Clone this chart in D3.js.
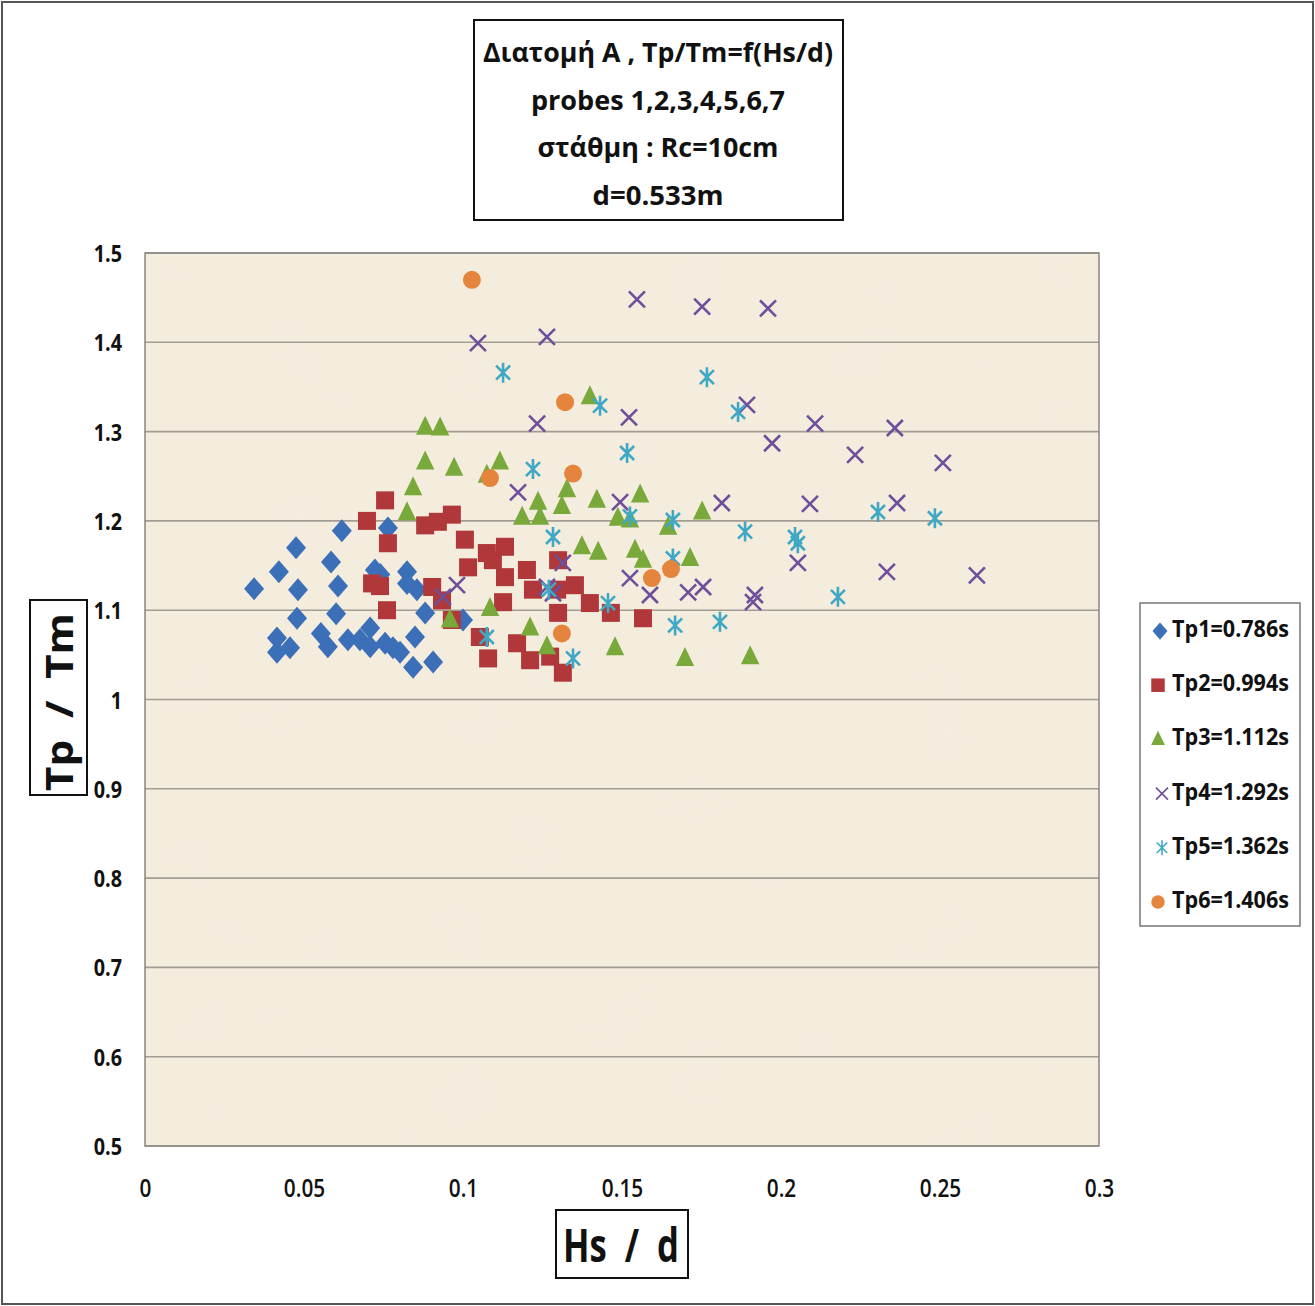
<!DOCTYPE html>
<html><head><meta charset="utf-8">
<script src="https://cdn.jsdelivr.net/npm/d3@7"></script>
<style>
body{margin:0;background:#fff;}
svg{display:block;}
</style></head>
<body>
<svg id="chart" width="1315" height="1306"></svg>
<script>
const titleLines = ["Διατομή Α , Tp/Tm=f(Hs/d)", "probes 1,2,3,4,5,6,7", "στάθμη : Rc=10cm", "d=0.533m"];
const xTicks = [0, 0.05, 0.1, 0.15, 0.2, 0.25, 0.3];
const yTicks = [0.5, 0.6, 0.7, 0.8, 0.9, 1, 1.1, 1.2, 1.3, 1.4, 1.5];
const seriesNames = ["Tp1=0.786s", "Tp2=0.994s", "Tp3=1.112s", "Tp4=1.292s", "Tp5=1.362s", "Tp6=1.406s"];
const xTitle = "Hs  /  d";
const yTitle = "Tp  /  Tm";

const tp1 = [[0.0343,1.124],[0.0421,1.143],[0.0475,1.170],[0.0481,1.123],[0.0478,1.091],[0.0415,1.069],[0.0415,1.053],[0.0456,1.058],
 [0.0619,1.189],[0.0585,1.154],[0.0607,1.127],[0.0601,1.096],[0.0553,1.074],[0.0575,1.059],[0.0638,1.067],[0.0676,1.067],
 [0.0708,1.080],[0.0708,1.059],[0.0755,1.063],[0.0780,1.058],[0.0802,1.053],[0.0849,1.070],[0.0843,1.036],[0.0906,1.042],
 [0.0881,1.097],[0.0723,1.145],[0.0824,1.143],[0.0824,1.130],[0.0855,1.123],[0.0764,1.192],[0.1000,1.089],[0.0740,1.140]];
const tp2 = [[0.0698,1.200],[0.0755,1.223],[0.0764,1.175],[0.0714,1.130],[0.0739,1.127],[0.0761,1.100],[0.0903,1.126],[0.0934,1.111],
 [0.0965,1.089],[0.0881,1.195],[0.0921,1.199],[0.0965,1.207],[0.1006,1.179],[0.1016,1.148],[0.1075,1.164],[0.1132,1.171],
 [0.1094,1.156],[0.1132,1.137],[0.1126,1.109],[0.1053,1.070],[0.1079,1.046],[0.1170,1.063],[0.1201,1.145],[0.1220,1.123],
 [0.1211,1.044],[0.1299,1.156],[0.1296,1.123],[0.1299,1.097],[0.1274,1.048],[0.1314,1.030],[0.1352,1.128],[0.1399,1.108],
 [0.1465,1.097],[0.1566,1.091]];
const tp3 = [[0.1399,1.339],[0.0881,1.305],[0.0928,1.304],[0.0881,1.266],[0.0972,1.259],[0.0843,1.237],[0.0824,1.209],[0.1075,1.251],
 [0.1116,1.266],[0.1085,1.102],[0.0959,1.089],[0.1211,1.080],[0.1264,1.059],[0.1186,1.204],[0.1236,1.221],[0.1242,1.204],
 [0.1311,1.216],[0.1327,1.235],[0.1421,1.223],[0.1374,1.171],[0.1425,1.165],[0.1487,1.203],[0.1525,1.201],[0.1557,1.229],
 [0.1541,1.167],[0.1566,1.156],[0.1645,1.193],[0.1752,1.210],[0.1714,1.158],[0.1478,1.058],[0.1698,1.046],[0.1903,1.048]];
const tp4 = [[0.1047,1.399],[0.1264,1.406],[0.1547,1.448],[0.1752,1.440],[0.1959,1.438],[0.1233,1.309],[0.1522,1.316],[0.1893,1.330],
 [0.1972,1.287],[0.2107,1.309],[0.2233,1.274],[0.2358,1.304],[0.2509,1.265],[0.1173,1.232],[0.1494,1.221],[0.1814,1.220],
 [0.2091,1.219],[0.2365,1.220],[0.2053,1.153],[0.2333,1.143],[0.2616,1.139],[0.0981,1.128],[0.0937,1.115],[0.1264,1.126],
 [0.1283,1.119],[0.1314,1.153],[0.1525,1.136],[0.1588,1.117],[0.1708,1.120],[0.1755,1.126],[0.1918,1.117],[0.1912,1.109]];
const tp5 = [[0.1126,1.366],[0.1431,1.329],[0.1767,1.361],[0.1865,1.322],[0.1516,1.276],[0.1220,1.258],[0.1283,1.182],[0.1525,1.205],
 [0.1660,1.201],[0.1887,1.188],[0.2044,1.182],[0.2053,1.175],[0.2305,1.210],[0.2484,1.203],[0.1456,1.108],[0.1667,1.083],
 [0.1808,1.087],[0.2179,1.115],[0.1075,1.070],[0.1346,1.046],[0.1660,1.158],[0.1270,1.123]];
const tp6 = [[0.1028,1.470],[0.1321,1.333],[0.1085,1.248],[0.1346,1.253],[0.1594,1.136],[0.1654,1.146],[0.1311,1.074]];

const allSeries = [tp1, tp2, tp3, tp4, tp5, tp6];
const colors = ["#3b70b8", "#b0383a", "#79a83b", "#6e4f9c", "#3fa8c4", "#e5853d"];
const shapes = ["diamond", "square", "triangle", "x", "star", "circle"];

const svg = d3.select("#chart");
const W = 1315, H = 1306;
const pl = 145, pr = 1099, pt = 253, pb = 1146;
const x = d3.scaleLinear().domain([0, 0.3]).range([pl, pr]);
const y = d3.scaleLinear().domain([0.5, 1.5]).range([pb, pt]);

const FONT = "'Open Sans', 'Noto Sans', 'DejaVu Sans', sans-serif";
function condense(sel, factor) {
  sel.each(function() {
    const len = this.getComputedTextLength();
    d3.select(this).attr("textLength", len * factor).attr("lengthAdjust", "spacingAndGlyphs");
  });
}
function fitWidth(sel, w) {
  sel.attr("textLength", w).attr("lengthAdjust", "spacingAndGlyphs");
}

const defs = svg.append("defs");
const filt = defs.append("filter").attr("id", "tex").attr("x", 0).attr("y", 0).attr("width", 1).attr("height", 1);
filt.append("feTurbulence").attr("type", "fractalNoise").attr("baseFrequency", 0.012).attr("numOctaves", 3).attr("seed", 4).attr("result", "n");
filt.append("feColorMatrix").attr("in", "n").attr("type", "matrix")
  .attr("values", "0 0 0 0 0.93  0 0 0 0 0.89  0 0 0 0 0.82  0 0 0 -0.9 0.45").attr("result", "c");
filt.append("feComposite").attr("in", "c").attr("in2", "SourceGraphic").attr("operator", "over");

// outer border
svg.append("rect").attr("x", 2).attr("y", 2).attr("width", W - 4).attr("height", H - 4)
  .attr("fill", "#fff").attr("stroke", "#555").attr("stroke-width", 2);

// plot area
svg.append("rect").attr("x", pl).attr("y", pt).attr("width", pr - pl).attr("height", pb - pt)
  .attr("fill", "#f4ecdc");
svg.append("rect").attr("x", pl).attr("y", pt).attr("width", pr - pl).attr("height", pb - pt)
  .attr("fill", "#f4ecdc").attr("filter", "url(#tex)").attr("opacity", 0.8);

// gridlines
svg.append("g").selectAll("line").data(yTicks).join("line")
  .attr("x1", pl).attr("x2", pr).attr("y1", d => y(d)).attr("y2", d => y(d))
  .attr("stroke", "#a29c93").attr("stroke-width", 1.6);
svg.append("rect").attr("x", pl).attr("y", pt).attr("width", pr - pl).attr("height", pb - pt)
  .attr("fill", "none").attr("stroke", "#8a8580").attr("stroke-width", 1.5);

// axes
const yAxis = d3.axisLeft(y).tickValues(yTicks).tickSize(0).tickPadding(23).tickFormat(d3.format("~g"));
const gy = svg.append("g").attr("transform", `translate(${pl},0)`).call(yAxis);
gy.select(".domain").remove();
gy.selectAll("text").attr("font-family", FONT).attr("font-weight", "bold").attr("font-size", 23)
  .attr("fill", "#111").attr("dy", 8.5).call(condense, 0.86);

const xAxis = d3.axisBottom(x).tickValues(xTicks).tickSize(0).tickPadding(51).tickFormat(d3.format("~g"));
const gx = svg.append("g").attr("transform", `translate(0,${pb})`).call(xAxis);
gx.select(".domain").remove();
gx.selectAll("text").attr("font-family", FONT).attr("font-weight", 600).attr("font-size", 26)
  .attr("fill", "#111").attr("dy", 0).call(condense, 0.8);

// symbol generators
function shapePath(shape, s) {
  if (shape === "diamond") return `M0,${-s*1.15}L${s},0L0,${s*1.15}L${-s},0Z`;
  if (shape === "square") return `M${-s*0.9},${-s*0.9}H${s*0.9}V${s*0.9}H${-s*0.9}Z`;
  if (shape === "triangle") return `M0,${-s*1.15}L${s*0.92},${s*0.75}L${-s*0.92},${s*0.75}Z`;
  if (shape === "x") { const a = s * 0.8; return `M${-a},${-a}L${a},${a}M${-a},${a}L${a},${-a}`; }
  if (shape === "star") { const a = s * 0.7; return `M${-a},${-a}L${a},${a}M${-a},${a}L${a},${-a}M0,${-s}L0,${s}`; }
  return null;
}
function drawMarker(g, shape, color, s, sw) {
  if (shape === "circle") {
    g.append("circle").attr("r", s * 0.9).attr("fill", color);
  } else if (shape === "x" || shape === "star") {
    g.append("path").attr("d", shapePath(shape, s)).attr("fill", "none").attr("stroke", color).attr("stroke-width", sw);
  } else {
    g.append("path").attr("d", shapePath(shape, s)).attr("fill", color);
  }
}

allSeries.forEach((data, i) => {
  const g = svg.append("g");
  data.forEach(d => {
    const m = g.append("g").attr("transform", `translate(${x(d[0])},${y(d[1])})`);
    drawMarker(m, shapes[i], colors[i], 10, 2.6);
  });
});

// title box
svg.append("rect").attr("x", 474).attr("y", 20).attr("width", 369).attr("height", 200)
  .attr("fill", "#fff").attr("stroke", "#111").attr("stroke-width", 2);
const titleW = [350, 254, 241, 131];
svg.append("g").selectAll("text").data(titleLines).join("text")
  .attr("x", 658).attr("y", (d, i) => 62 + i * 47.7)
  .attr("text-anchor", "middle").attr("font-family", FONT).attr("font-weight", "bold")
  .attr("font-size", 27).attr("fill", "#111").text(d => d)
  .attr("textLength", (d, i) => titleW[i]).attr("lengthAdjust", "spacingAndGlyphs");

// y axis title
svg.append("rect").attr("x", 30).attr("y", 600).attr("width", 57).attr("height", 195)
  .attr("fill", "#fff").attr("stroke", "#111").attr("stroke-width", 2);
svg.append("text").attr("transform", "translate(73,702) rotate(-90)")
  .attr("text-anchor", "middle").attr("font-family", FONT).attr("font-weight", "bold")
  .attr("font-size", 37).attr("fill", "#111").attr("xml:space", "preserve").text(yTitle)
  .call(fitWidth, 178);

// x axis title
svg.append("rect").attr("x", 556).attr("y", 1210).attr("width", 132).attr("height", 68)
  .attr("fill", "#fff").attr("stroke", "#111").attr("stroke-width", 2);
svg.append("text").attr("x", 621).attr("y", 1262)
  .attr("text-anchor", "middle").attr("font-family", FONT).attr("font-weight", "bold")
  .attr("font-size", 47).attr("fill", "#111").attr("xml:space", "preserve").text(xTitle)
  .call(fitWidth, 116);

// legend
svg.append("rect").attr("x", 1140).attr("y", 603).attr("width", 160).attr("height", 323)
  .attr("fill", "#fff").attr("stroke", "#777").attr("stroke-width", 1.5);
const legMarkerX = [1160, 1158, 1158, 1162, 1162, 1158];
seriesNames.forEach((name, i) => {
  const base = 637 + i * 54.2;
  const m = svg.append("g").attr("transform", `translate(${legMarkerX[i]},${base - 6})`);
  drawMarker(m, shapes[i], colors[i], 7.5, 1.6);
  svg.append("text").attr("x", 1172).attr("y", base).attr("font-family", FONT).attr("font-weight", "bold")
    .attr("font-size", 24).attr("fill", "#111").text(name).call(fitWidth, 117);
});
</script>
</body></html>
